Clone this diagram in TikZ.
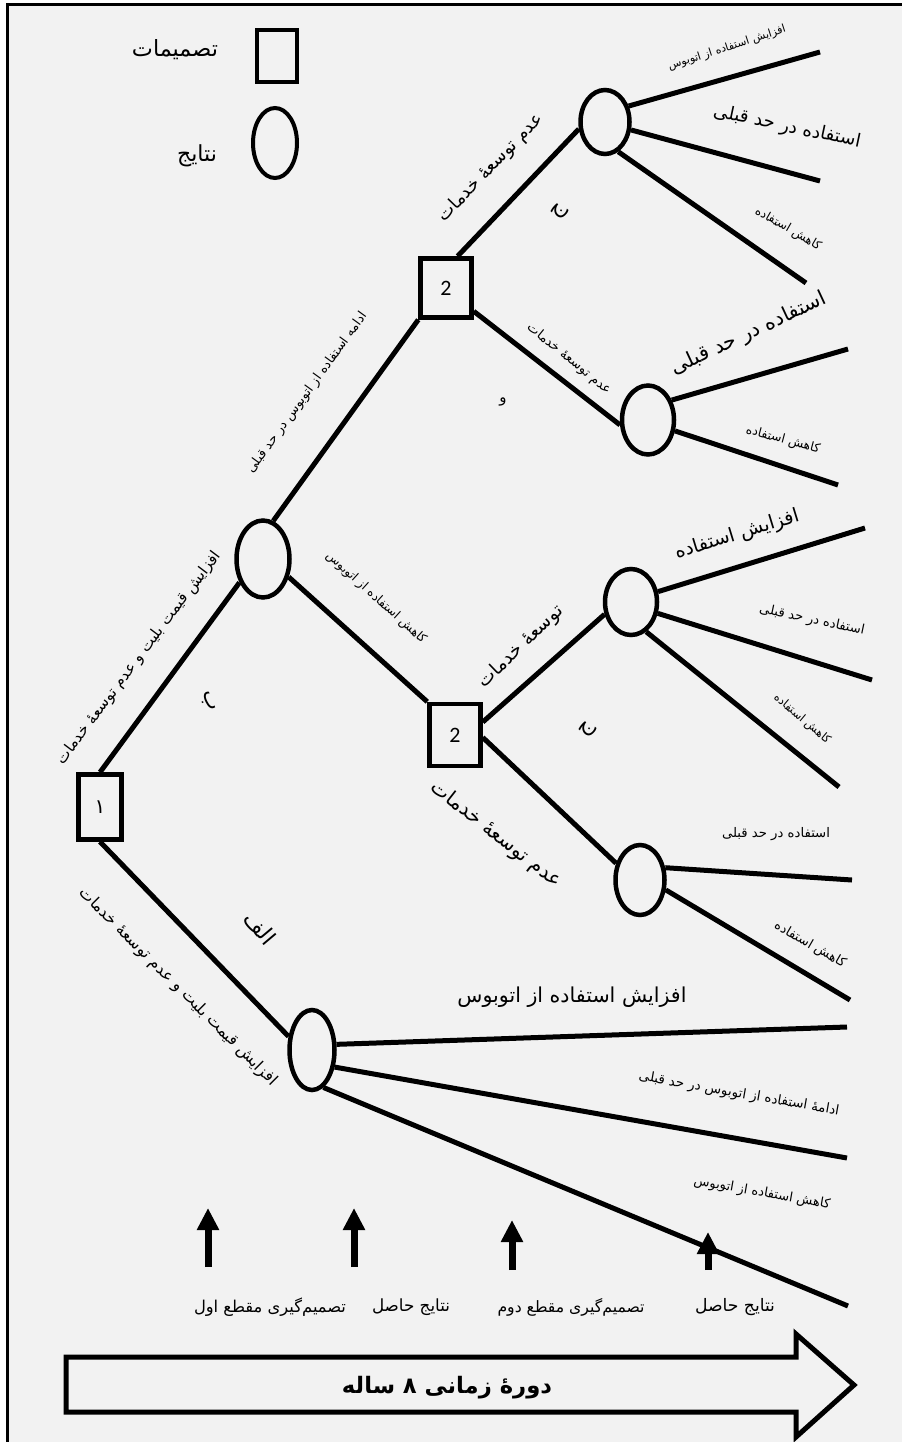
\documentclass[tikz,border=0pt]{standalone}
\usepackage{fontspec}
\usepackage{graphicx}
\usetikzlibrary{arrows.meta,shapes.geometric}
\TeXXeTstate=1
\newfontfamily\arabicfont[Script=Arabic]{DejaVu Sans}
\setsansfont{Carlito}
\definecolor{bgc}{HTML}{F2F2F2}
\newcommand{\fw}[2]{\resizebox{#1pt}{!}{\arabicfont #2}}
\newcommand{\fwb}[2]{\resizebox{#1pt}{!}{\arabicfont\bfseries #2}}
\begin{document}
\begin{tikzpicture}[x=1pt,y=-1pt,
  dec/.style={draw,line width=4.5pt,inner sep=0pt,fill=bgc,font=\sffamily\fontsize{22}{24}\selectfont},
  chance/.style={draw,ellipse,line width=4.5pt,inner sep=0pt,fill=bgc},
  edge/.style={line width=5pt},
  lbl/.style={inner sep=0pt},
  letter/.style={inner sep=0pt,font=\arabicfont\fontsize{22}{24}\selectfont},
  uparr/.style={line width=7pt,-{Triangle[width=21pt,length=22pt]}}]
\useasboundingbox (0,0) rectangle (902,1442);
\fill[white] (0,0) rectangle (902,1442);
\fill[bgc] (7,4.5) rectangle (902,1442);
\draw[line width=3pt] (7,1442) -- (7,4.5) -- (902,4.5);

% legend
\node[draw,line width=4pt,minimum width=40pt,minimum height=52pt,inner sep=0pt] (lsq) at (277,56) {};
\node[draw,ellipse,line width=4pt,minimum width=44pt,minimum height=70pt,inner sep=0pt] (lel) at (275,143) {};
\node[lbl] (tleg1) at (175,50) {\fw{86}{\beginR تصمیمات\endR}};
\node[lbl] (tleg2) at (197,156) {\fw{40}{\beginR نتایج\endR}};

% nodes
\node[dec,minimum width=43pt,minimum height=65pt] (d1) at (100,807) {\arabicfont\fontsize{20}{22}\selectfont ۱};
\node[chance,minimum width=53pt,minimum height=77pt] (b) at (263,559) {};
\node[dec,minimum width=51pt,minimum height=59pt] (d2u) at (446,288) {2};
\node[dec,minimum width=51pt,minimum height=62pt] (d2l) at (455,735) {2};
\node[chance,minimum width=49pt,minimum height=64pt] (c1) at (605,122) {};
\node[chance,minimum width=52pt,minimum height=69pt] (c2) at (648,420) {};
\node[chance,minimum width=52pt,minimum height=66pt] (c3) at (631,602) {};
\node[chance,minimum width=49pt,minimum height=70pt] (c4) at (640,880) {};
\node[chance,minimum width=45pt,minimum height=80pt] (a) at (312,1050) {};

% end points
\coordinate (e11) at (820,52);
\coordinate (e12) at (820,181);
\coordinate (e13) at (806,283);
\coordinate (e21) at (848,349);
\coordinate (e22) at (838,485);
\coordinate (e31) at (865,528);
\coordinate (e32) at (872,680);
\coordinate (e33) at (839,787);
\coordinate (e41) at (852,880);
\coordinate (e42) at (850,1000);
\coordinate (ea1) at (847,1027);
\coordinate (ea2) at (847,1158);
\coordinate (ea3) at (848,1306);

% edges
\draw[edge] (d1.north) -- (b.225);
\draw[edge] (d1.south) -- (a.150);
\draw[edge] (b.75) -- (d2u.south west);
\draw[edge] (b.-35) -- (d2l.north west);
\draw[edge] (d2u.70) -- (c1.195);
\draw[edge] (d2u.-40) -- (c2.190);
\draw[edge] (d2l.25) -- (c3.205);
\draw[edge] (d2l.-5) -- (c4.145);
\draw[edge] (c1.34) -- (e11);
\draw[edge] (c1.-17) -- (e12);
\draw[edge] (c1.-66) -- (e13);
\draw[edge] (c2.40) -- (e21);
\draw[edge] (c2.-22) -- (e22);
\draw[edge] (c3.21) -- (e31);
\draw[edge] (c3.-23) -- (e32);
\draw[edge] (c3.-63) -- (e33);
\draw[edge] (c4.26) -- (e41);
\draw[edge] (c4.-21) -- (e42);
\draw[edge] (a.13) -- (ea1);
\draw[edge] (a.-37) -- (ea2);
\draw[edge] (a.-73) -- (ea3);

% edge labels
\node[lbl,rotate=53] (l1) at (139,658) {\fw{262}{\beginR افزایش قیمت بلیت و عدم توسعهٔ خدمات\endR}};
\node[lbl,rotate=54] (l2) at (307,393) {\fw{195}{\beginR ادامه استفاده از اتوبوس در حد قبلی\endR}};
\node[lbl,rotate=-42] (l3) at (376,598) {\fw{130}{\beginR کاهش استفاده از اتوبوس\endR}};
\node[lbl,rotate=46] (l4) at (491,168) {\fw{143}{\beginR عدم توسعهٔ خدمات\endR}};
\node[lbl,rotate=-39] (l5) at (569,359) {\fw{104}{\beginR عدم توسعهٔ خدمات\endR}};
\node[lbl,rotate=25] (l6) at (749,334) {\fw{169}{\beginR استفاده در حد قبلی\endR}};
\node[lbl,rotate=-15] (l7) at (783,440) {\fw{76}{\beginR کاهش استفاده\endR}};
\node[lbl,rotate=18] (l8) at (727,48) {\fw{123}{\beginR افزایش استفاده از اتوبوس\endR}};
\node[lbl,rotate=-12] (l9) at (787,127) {\fw{150}{\beginR استفاده در حد قبلی\endR}};
\node[lbl,rotate=-30] (l10) at (788,229) {\fw{74}{\beginR کاهش استفاده\endR}};
\node[lbl,rotate=44] (l11) at (521,647) {\fw{110}{\beginR توسعهٔ خدمات\endR}};
\node[lbl,rotate=-38] (l12) at (496,835) {\fw{160}{\beginR عدم توسعهٔ خدمات\endR}};
\node[lbl,rotate=17] (l13) at (737,535) {\fw{129}{\beginR افزایش استفاده\endR}};
\node[lbl,rotate=-12] (l14) at (812,620) {\fw{107}{\beginR استفاده در حد قبلی\endR}};
\node[lbl,rotate=-40] (l15) at (802,719) {\fw{70}{\beginR کاهش استفاده\endR}};
\node[lbl] (l16) at (776,834) {\fw{108}{\beginR استفاده در حد قبلی\endR}};
\node[lbl,rotate=-30] (l17) at (810,945) {\fw{80}{\beginR کاهش استفاده\endR}};
\node[lbl,rotate=-45] (l18) at (178,987) {\fw{273}{\beginR افزایش قیمت بلیت و عدم توسعهٔ خدمات\endR}};
\node[lbl] (l19) at (572,997) {\fw{229}{\beginR افزایش استفاده از اتوبوس\endR}};
\node[lbl,rotate=-10] (l20) at (739,1094) {\fw{203}{\beginR ادامهٔ استفاده از اتوبوس در حد قبلی\endR}};
\node[lbl,rotate=-10] (l21) at (762,1193) {\fw{138}{\beginR کاهش استفاده از اتوبوس\endR}};

% branch letters
\node[letter,rotate=-70] (lb) at (208,702) {\beginR ب\endR};
\node[letter,rotate=50] (lj1) at (560,212) {\beginR ج\endR};
\node[letter,font=\arabicfont\fontsize{15}{17}\selectfont] (lv) at (503,402) {\beginR و\endR};
\node[letter,rotate=50] (lj2) at (588,730) {\beginR ج\endR};
\node[letter,rotate=-50] (lalef) at (260,928) {\beginR الف\endR};

% time arrows
\coordinate (ar1s) at (208,1267); \coordinate (ar1e) at (208,1208);
\coordinate (ar2s) at (354,1267); \coordinate (ar2e) at (354,1208);
\coordinate (ar3s) at (512,1270); \coordinate (ar3e) at (512,1220);
\coordinate (ar4s) at (708,1270); \coordinate (ar4e) at (708,1232);
\draw[uparr] (ar1s) -- (ar1e);
\draw[uparr] (ar2s) -- (ar2e);
\draw[uparr] (ar3s) -- (ar3e);
\draw[uparr] (ar4s) -- (ar4e);

\node[lbl] (b1) at (270,1307) {\fw{152}{\beginR تصمیم^^^^200cگیری مقطع اول\endR}};
\node[lbl] (b2) at (411,1307) {\fw{78}{\beginR نتایج حاصل\endR}};
\node[lbl] (b3) at (571,1307) {\fw{147}{\beginR تصمیم^^^^200cگیری مقطع دوم\endR}};
\node[lbl] (b4) at (735,1307) {\fw{80}{\beginR نتایج حاصل\endR}};

% big time arrow
\draw[line width=5pt,fill=bgc,line join=miter] (66,1357) -- (796,1357) -- (796,1334) -- (854,1385) -- (796,1437) -- (796,1412) -- (66,1412) -- cycle;
\node[lbl] (tbig) at (447,1388) {\fwb{210}{\beginR دورهٔ زمانی ۸ ساله\endR}};
\end{tikzpicture}
\end{document}
